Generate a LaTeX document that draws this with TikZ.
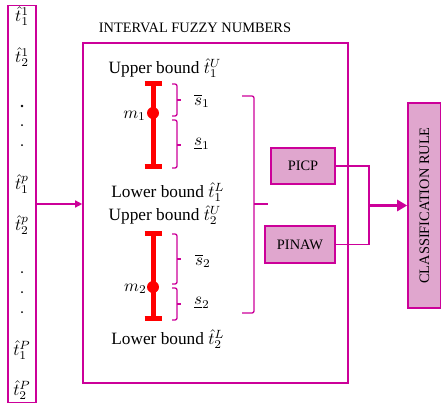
\documentclass[tikz,border=0pt]{standalone}
\usepackage{graphicx}
\usepackage{fontspec}
\setmainfont{Liberation Serif}
\usetikzlibrary{arrows.meta}
\definecolor{mag}{RGB}{204,0,153}
\definecolor{pinkfill}{RGB}{224,166,206}
\newcommand{\mth}[1]{\scalebox{1.7}{\normalsize$#1$}}
\begin{document}
\begin{tikzpicture}[x=1pt,y=-1pt]
        % Common styles
        \tikzstyle{frame}=[draw=mag, line width=1.6pt, inner sep=0pt]
        \tikzstyle{metric}=[draw=mag, fill=pinkfill, line width=1.6pt, font=\Large]
        \tikzstyle{wire}=[draw=mag, line width=1.4pt]
        \tikzstyle{brace}=[draw=mag, line width=1.3pt, rounded corners=2pt]
        \tikzstyle{bar}=[red, line width=5pt]
        \tikzstyle{lbl}=[font=\LARGE, inner sep=0pt]
        \useasboundingbox (0,0) rectangle (441,405);

        % --- Input column ---
        \node[frame, minimum width=28pt, minimum height=397pt] (inputs) at (22,204) {};
        \node[lbl] (t11) at (22,16) {\mth{\hat{t}_1^1}};
        \node[lbl] (t21) at (22,57) {\mth{\hat{t}_2^1}};
        \node[lbl] (t1p) at (22,184) {\mth{\hat{t}_1^p}};
        \node[lbl] (t2p) at (22,225) {\mth{\hat{t}_2^p}};
        \node[lbl] (t1P) at (22,350) {\mth{\hat{t}_1^P}};
        \node[lbl] (t2P) at (22,390) {\mth{\hat{t}_2^P}};
        \fill (22,106) circle (1.4pt);
        \foreach \y in {125, 145, 272, 292, 312} \fill (22,\y) circle (1pt);

        % --- Interval fuzzy numbers ---
        \node[font=\Large] (title) at (195,28) {INTERVAL FUZZY NUMBERS};
        \node[frame, minimum width=265pt, minimum height=340pt] (ifn) at (215.5,213) {};
        \draw[wire, -{Triangle[length=7pt, width=7pt]}] (inputs.east) -- (inputs.east -| ifn.west);

        % first interval
        \node[lbl] (up1) at (165,68) {Upper bound \mth{\hat{t}_1^U}};
        \node[lbl] (lo1) at (168,192) {Lower bound \mth{\hat{t}_1^L}};
        \draw[bar] (153,83) -- (153,168);
        \draw[bar] (144.5,83) -- (161.5,83);
        \draw[bar] (144.5,166) -- (161.5,166);
        \fill[red] (153,113) circle (6pt);
        \node[lbl, anchor=east] (m1) at (146,116) {\mth{m_1}};
        \draw[brace] (172,84) -- (177,84) -- (177,116) -- (172,116);
        \draw[mag, line width=1.3pt] (177,100) -- (181,100);
        \draw[brace] (172,120) -- (177,120) -- (177,168) -- (172,168);
        \draw[mag, line width=1.3pt] (177,145) -- (181,145);
        \node[lbl] (sU1) at (202,101) {\mth{\overline{s}_1}};
        \node[lbl] (sL1) at (202,144) {\mth{\underline{s}_1}};

        % second interval
        \node[lbl] (up2) at (165,215) {Upper bound \mth{\hat{t}_2^U}};
        \node[lbl] (lo2) at (168,339) {Lower bound \mth{\hat{t}_2^L}};
        \draw[bar] (153,233) -- (153,318);
        \draw[bar] (144.5,233) -- (161.5,233);
        \draw[bar] (144.5,318) -- (161.5,318);
        \fill[red] (153,287) circle (6pt);
        \node[lbl, anchor=east] (m2) at (147,289) {\mth{m_2}};
        \draw[brace] (172,234) -- (177,234) -- (177,284) -- (172,284);
        \draw[mag, line width=1.3pt] (177,259) -- (181,259);
        \draw[brace] (172,288) -- (177,288) -- (177,320) -- (172,320);
        \draw[mag, line width=1.3pt] (177,304) -- (181,304);
        \node[lbl] (sU2) at (203,261) {\mth{\overline{s}_2}};
        \node[lbl] (sL2) at (202,303) {\mth{\underline{s}_2}};

        % big brace
        \draw[brace] (242,96) -- (254,96) -- (254,313) -- (242,313);
        \draw[mag, line width=1.6pt] (254,204) -- (268,204);

        % --- Metrics and rule ---
        \node[metric, minimum width=64pt, minimum height=36pt] (picp) at (303,166) {PICP};
        \node[metric, minimum width=70pt, minimum height=37pt] (pinaw) at (300,244.5) {PINAW};
        \node[metric, rotate=90, minimum width=205pt, minimum height=33pt] (rule) at (424.5,205.5) {CLASSIFICATION RULE};
        \coordinate (join) at (369,205.5);
        \draw[wire] (picp.east) -| (join);
        \draw[wire] (pinaw.east) -| (join);
        \draw[mag, line width=3pt, -{Triangle[length=10pt, width=11pt]}] (join) -- (rule.north);
\end{tikzpicture}
\end{document}
